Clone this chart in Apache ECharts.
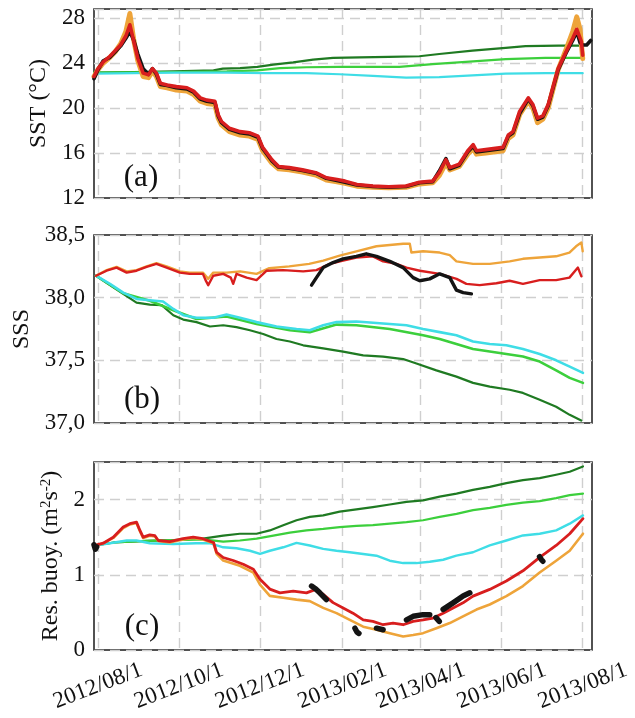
<!DOCTYPE html>
<html>
<head>
<meta charset="utf-8">
<script src="https://cdn.jsdelivr.net/npm/echarts@6/dist/echarts.min.js"></script>
<style>
  html, body { margin: 0; padding: 0; background: #fff; }
  #chart { width: 635px; height: 718px; }
</style>
</head>
<body>
<div id="chart"></div>
<script>
// Time base: all series are given as [days since 2012-07-29, value]
const START_DATE = '2012-07-29';
const END_DATE = '2013-08-08';

// x-axis ticks (bimonthly) and their printed labels
const tickDates = ['2012-08-01', '2012-10-01', '2012-12-01', '2013-02-01', '2013-04-01', '2013-06-01', '2013-08-01'];
const tickLabels = ['2012/08/1', '2012/10/1', '2012/12/1', '2013/02/1', '2013/04/1', '2013/06/1', '2013/08/1'];

// ---- (a) Sea surface temperature, deg C ----
const sstOrange = [[0,22.8],[3,23.4],[7,24.0],[12,24.5],[16,25.0],[20,25.7],[24,26.8],[27,28.4],[30,26.0],[33,24.2],[37,22.8],[41,22.7],[44,23.3],[47,22.8],[50,21.9],[55,21.8],[62,21.6],[70,21.5],[75,21.2],[80,20.6],[85,20.4],[91,20.3],[93.5,19.1],[96,18.5],[102,17.9],[110,17.6],[117,17.5],[123.5,17.2],[127,16.2],[134,15.1],[139,14.6],[147,14.5],[157,14.3],[167,14.05],[175,13.6],[183,13.45],[189,13.3],[198,13.05],[210,12.95],[222,12.9],[235,12.95],[245,13.25],[255,13.35],[260,14.0],[265,15.1],[268,14.5],[275,14.8],[281.5,15.9],[285.5,16.4],[288,15.9],[295,16.0],[308,16.2],[312,17.3],[315.5,17.6],[320.5,19.4],[327,20.6],[330.5,20.0],[334,18.7],[338,19.0],[342,20.0],[345.5,21.6],[349.5,23.4],[355.5,25.2],[360.5,26.8],[363.5,28.1],[366,27.0],[368,24.4]];
const sstBlack = [[0,22.6],[3,23.4],[7,24.2],[12,24.5],[16,25.0],[20,25.5],[24,26.2],[27,26.8],[30,26.0],[33,24.8],[37,23.5],[41,23.0],[44,23.5],[47,23.0],[50,22.1],[55,22.0],[62,21.8],[70,21.7],[75,21.4],[80,20.8],[85,20.6],[91,20.5],[93.5,19.3],[96,18.7],[102,18.1],[110,17.8],[117,17.7],[123.5,17.4],[127,16.4],[134,15.3],[139,14.75],[147,14.65],[157,14.45],[167,14.2],[175,13.75],[183,13.55],[189,13.4],[198,13.15],[210,13.02],[222,12.97],[235,13.02],[245,13.35],[255,13.45],[260,14.4],[265,15.5],[268,14.6],[275,14.9],[281.5,16.1],[285.5,16.6],[288,16.1],[295,16.2],[308,16.4],[312,17.5],[315.5,17.8],[320.5,19.5],[327,20.8],[330.5,20.2],[334,19.0],[338,19.2],[342,20.2],[345.5,21.7],[349.5,23.4],[355.5,24.9],[360.5,26.0],[363.5,26.8],[366,25.8],[368,25.6],[371,25.6],[374,26.0]];
const sstRed = [[0,22.8],[3,23.5],[7,24.1],[12,24.6],[16,25.1],[20,25.6],[24,26.4],[27,27.4],[30,25.9],[33,24.4],[37,23.1],[41,22.95],[44,23.5],[47,23.1],[50,22.2],[55,22.05],[62,21.9],[70,21.8],[75,21.5],[80,20.9],[85,20.7],[91,20.6],[93.5,19.4],[96,18.8],[102,18.2],[110,17.9],[117,17.8],[123.5,17.5],[127,16.5],[134,15.4],[139,14.8],[147,14.7],[157,14.5],[167,14.25],[175,13.8],[183,13.65],[189,13.5],[198,13.2],[210,13.06],[222,13.0],[235,13.06],[245,13.4],[255,13.5],[260,14.25],[265,15.4],[268,14.7],[275,15.0],[281.5,16.2],[285.5,16.75],[288,16.2],[295,16.3],[308,16.5],[312,17.6],[315.5,17.9],[320.5,19.7],[327,20.9],[330.5,20.3],[334,19.1],[338,19.3],[342,20.3],[345.5,21.8],[349.5,23.5],[355.5,25.0],[360.5,26.2],[363.5,27.0],[367,25.9],[368,24.7]];
const sstDarkGreen = [[0,23.15],[30,23.2],[60,23.25],[90,23.35],[97,23.5],[110,23.55],[123,23.65],[135,23.85],[150,24.05],[165,24.3],[180,24.45],[200,24.5],[222,24.55],[245,24.6],[260,24.8],[285,25.1],[310,25.35],[325,25.5],[350,25.55],[368,25.55]];
const sstLightGreen = [[0,23.15],[60,23.2],[100,23.25],[123,23.35],[140,23.55],[160,23.62],[185,23.65],[230,23.65],[255,23.9],[280,24.1],[310,24.35],[340,24.45],[368,24.45]];
const sstCyan = [[0,23.05],[30,23.1],[60,23.15],[100,23.15],[130,23.1],[160,23.1],[185,23.0],[210,22.85],[235,22.7],[260,22.75],[285,22.9],[310,23.05],[340,23.1],[368,23.1]];

// ---- (b) Sea surface salinity ----
const sssOrange = [[1.5,38.175],[9.5,38.22],[17,38.245],[24.6,38.21],[32,38.22],[39.6,38.25],[47,38.275],[54.7,38.25],[64.7,38.21],[72,38.2],[82,38.2],[86,38.15],[89.8,38.2],[100,38.2],[110,38.21],[122.4,38.19],[132,38.235],[147,38.25],[162,38.27],[172.6,38.295],[185,38.335],[197.6,38.37],[212.7,38.41],[222.7,38.42],[232.8,38.43],[237.8,38.43],[239,38.36],[247.8,38.37],[260.3,38.36],[267.9,38.34],[272.9,38.29],[285.4,38.27],[298,38.27],[313,38.29],[323,38.31],[335.6,38.32],[348,38.33],[358,38.36],[363,38.41],[367,38.44],[368,38.37]];
const sssRed = [[1.5,38.175],[9.5,38.215],[17,38.24],[24.6,38.2],[32,38.215],[39.6,38.245],[47,38.27],[54.7,38.24],[64.7,38.2],[72,38.19],[82,38.19],[84,38.14],[86,38.1],[89.8,38.175],[97.3,38.19],[103,38.16],[104.8,38.11],[107.3,38.19],[114.9,38.16],[122.4,38.14],[130,38.215],[142.5,38.22],[157.5,38.21],[167.5,38.22],[177.6,38.27],[187.6,38.295],[197.6,38.32],[210,38.33],[217.7,38.29],[227.7,38.27],[235.3,38.24],[245.3,38.215],[260.3,38.19],[273,38.15],[280.4,38.11],[290.4,38.1],[303,38.115],[313,38.135],[323,38.11],[335.6,38.14],[348,38.14],[358,38.16],[364.4,38.24],[367,38.17]];
const sssBlack = [[163.8,38.1],[167.5,38.16],[172.6,38.24],[180,38.28],[187.6,38.31],[197.6,38.33],[205,38.35],[212.7,38.33],[222.7,38.29],[232.8,38.24],[240.3,38.16],[245.3,38.135],[252.8,38.15],[260.3,38.19],[267.9,38.16],[272.9,38.06],[278,38.04],[284.2,38.03]];
const sssCyan = [[1.5,38.175],[12,38.11],[22,38.04],[32,37.99],[42,37.98],[52,37.97],[59.7,37.91],[67.2,37.86],[77.2,37.84],[89.8,37.84],[99.8,37.865],[109.9,37.84],[122.4,37.805],[137.4,37.77],[152.5,37.75],[162.5,37.74],[172.6,37.78],[182.6,37.805],[197.6,37.81],[210.2,37.8],[222.7,37.79],[235.3,37.78],[247.8,37.75],[260.3,37.725],[272.9,37.7],[285.4,37.65],[298,37.63],[310.5,37.62],[323,37.59],[335.6,37.55],[348,37.5],[358.2,37.45],[368.2,37.4]];
const sssLightGreen = [[1.5,38.175],[22,38.035],[42,37.975],[59.7,37.9],[77.2,37.83],[99.8,37.85],[122.4,37.79],[147.5,37.74],[162.5,37.725],[182.6,37.785],[197.6,37.78],[222.7,37.75],[247.8,37.7],[260.3,37.67],[272.9,37.63],[285.4,37.59],[298,37.57],[310.5,37.55],[323,37.53],[335.6,37.49],[348,37.42],[358.2,37.36],[368.2,37.32]];
const sssDarkGreen = [[1.5,38.175],[12,38.1],[22,38.03],[32,37.96],[42,37.945],[51,37.94],[59.7,37.86],[67.2,37.825],[77.2,37.805],[87.3,37.77],[97.3,37.78],[107.3,37.765],[117.4,37.74],[127.4,37.71],[137.4,37.67],[147.5,37.65],[157.5,37.62],[172.6,37.595],[187.6,37.57],[202.7,37.54],[217.7,37.53],[232.8,37.51],[242.8,37.475],[257.8,37.42],[272.9,37.37],[285.4,37.32],[298,37.29],[313,37.265],[323,37.24],[335.6,37.185],[348,37.13],[358.2,37.065],[366.9,37.02]];

// ---- (c) Residual buoyancy, m2 s-2 ----
const rbDarkGreen = [[0.75,1.39],[15,1.43],[40,1.45],[60,1.46],[82,1.48],[97.3,1.52],[109.8,1.546],[122.4,1.546],[132.4,1.59],[142.5,1.66],[152.5,1.725],[162.5,1.77],[172.6,1.79],[185,1.84],[197.6,1.87],[210,1.9],[222.7,1.935],[235.3,1.97],[247.8,1.99],[260.3,2.04],[273,2.08],[285.4,2.13],[298,2.17],[310.5,2.22],[323,2.26],[335.6,2.285],[348,2.33],[358.2,2.37],[368.2,2.44]];
const rbLightGreen = [[0.75,1.39],[15,1.43],[40,1.45],[60,1.46],[82,1.47],[97.3,1.44],[109.8,1.456],[122.4,1.48],[135,1.52],[147.5,1.56],[160,1.59],[172.6,1.61],[185,1.635],[197.6,1.65],[210,1.66],[222.7,1.68],[235.3,1.7],[247.8,1.725],[260.3,1.77],[273,1.81],[285.4,1.86],[298,1.89],[310.5,1.93],[323,1.96],[335.6,1.98],[348,2.02],[358.2,2.06],[368.2,2.08]];
const rbCyan = [[0.75,1.39],[12,1.42],[24.6,1.456],[32,1.456],[42,1.42],[59.7,1.41],[77,1.42],[87,1.42],[97.3,1.366],[107.3,1.353],[117.4,1.32],[125,1.277],[132.4,1.32],[142.5,1.366],[152.5,1.425],[162.5,1.39],[172.6,1.344],[182.6,1.32],[192.6,1.3],[202.7,1.277],[212.7,1.254],[222.7,1.187],[232.8,1.156],[242.8,1.156],[252.8,1.174],[262.9,1.2],[272.9,1.254],[285.4,1.3],[298,1.39],[310.5,1.456],[323,1.523],[335.6,1.546],[348,1.59],[358.2,1.68],[368.2,1.79]];
const rbOrange = [[0.75,1.39],[7,1.42],[14.5,1.49],[22,1.62],[27,1.67],[32,1.69],[34.6,1.58],[37,1.49],[42,1.52],[45.9,1.51],[48.4,1.45],[57,1.43],[67,1.47],[74.7,1.49],[82,1.47],[90,1.42],[92.3,1.28],[97.3,1.19],[109.8,1.12],[120,1.03],[125,0.87],[132.4,0.72],[142.5,0.694],[152.5,0.67],[162.5,0.65],[172.6,0.56],[182.6,0.49],[192.6,0.4],[202.7,0.31],[212.7,0.27],[222.7,0.224],[232.8,0.18],[240.3,0.2],[247.8,0.224],[257.8,0.29],[267.9,0.358],[277.9,0.448],[288,0.538],[298,0.605],[310.5,0.717],[323,0.85],[335.6,1.03],[348,1.187],[358.2,1.32],[368.2,1.546]];
const rbRed = [[0.75,1.39],[7,1.42],[14.5,1.5],[22,1.635],[27,1.68],[32,1.7],[34.6,1.59],[37,1.5],[42,1.53],[45.9,1.52],[48.4,1.456],[57,1.44],[67,1.48],[74.7,1.5],[82,1.48],[90,1.43],[92.3,1.3],[97.3,1.23],[104.8,1.19],[112.4,1.14],[120,1.075],[125,0.94],[132.4,0.81],[140,0.76],[150,0.784],[160,0.76],[167.5,0.81],[172.6,0.74],[180,0.63],[187.6,0.56],[195,0.49],[202.7,0.4],[210,0.38],[217.7,0.336],[225.2,0.358],[232.8,0.336],[240.3,0.38],[247.8,0.4],[255.3,0.425],[262.9,0.49],[270.4,0.56],[277.9,0.627],[285.4,0.717],[298,0.806],[310.5,0.918],[323,1.053],[335.6,1.232],[348,1.39],[358.2,1.546],[368.2,1.747]];
// observed residual buoyancy is only available in short pieces
const rbBlackPieces = [
  [[0,1.4],[1,1.34],[2,1.37]],
  [[163.8,0.85],[167,0.81],[170,0.76],[175,0.67]],
  [[196.5,0.29],[198,0.24],[199.5,0.22]],
  [[212.7,0.29],[217.7,0.27]],
  [[235.3,0.4],[240.3,0.448],[247.8,0.47],[252.8,0.47]],
  [[257.5,0.43],[259,0.4],[260,0.38]],
  [[262.9,0.54],[270.4,0.627],[277.9,0.717],[283,0.76]],
  [[335.5,1.24],[337,1.2],[338,1.18]]
];

// y-axis ranges and tick steps
const sstAxis = { min: 12, max: 28.8, step: 4 };
const sssAxis = { min: 37, max: 38.5, step: 0.5 };
const rbAxis = { min: 0, max: 2.5, step: 1 };

// ---------------------------------------------------------------
const DAY_MS = 86400000;
function utc(s) { const p = s.split('-').map(Number); return Date.UTC(p[0], p[1] - 1, p[2]); }
const t0 = utc(START_DATE);
const toTime = arr => arr.map(([d, v]) => [t0 + d * DAY_MS, v]);
const tickTimes = tickDates.map(utc);

function joinPieces(pieces) {
  const out = [];
  pieces.forEach((p, i) => {
    if (i > 0) out.push([t0 + (p[0][0] - 0.5) * DAY_MS, '-']);
    toTime(p).forEach(q => out.push(q));
  });
  return out;
}

const C = {
  darkGreen: '#1f7a22',
  lightGreen: '#3ccf3c',
  cyan: '#3fdde6',
  orange: '#eea43a',
  red: '#d81e1e',
  black: '#141414'
};

const FONT = '"Liberation Serif", "Times New Roman", serif';
const grid = [
  { left: 94, right: 43, top: 9, height: 189 },
  { left: 94, right: 43, top: 235, height: 188 },
  { left: 94, right: 43, top: 462, height: 188 }
].map(g => Object.assign(g, { show: true, borderColor: '#1a1a1a', borderWidth: 1.5, backgroundColor: 'transparent' }));

const dashed = { show: true, lineStyle: { color: '#cfcfcf', width: 1.4, type: [10, 6] } };

// time runs along a numeric axis (timestamps), ticks at the first day of every other month
function xAxis(i, showLabels) {
  return {
    type: 'value', gridIndex: i,
    min: utc(START_DATE), max: utc(END_DATE),
    axisLine: { show: false },
    axisTick: { show: false, customValues: tickTimes },
    splitLine: dashed,
    axisLabel: {
      show: showLabels,
      customValues: tickTimes,
      rotate: 21,
      align: 'center',
      verticalAlign: 'middle',
      margin: 36,
      fontFamily: FONT, fontSize: 23, color: '#111',
      formatter: v => { const k = tickTimes.indexOf(v); return k >= 0 ? tickLabels[k] : ''; }
    }
  };
}

function yAxis(i, ax, name, gap, fmt, rich) {
  return {
    type: 'value', gridIndex: i,
    min: ax.min, max: ax.max, interval: ax.step,
    name: name, nameLocation: 'middle', nameGap: gap,
    nameTextStyle: Object.assign({ fontFamily: FONT, fontSize: 24, color: '#111' }, rich ? { rich: rich } : {}),
    axisLine: { show: false },
    axisTick: { show: false },
    splitLine: dashed,
    axisLabel: {
      fontFamily: FONT, fontSize: 23, color: '#111', margin: 9,
      formatter: fmt
    }
  };
}

const onStep = (v, ax) => Math.abs((v - ax.min) / ax.step - Math.round((v - ax.min) / ax.step)) < 1e-6;

function line(name, data, color, width, xi, z) {
  return {
    name: name, type: 'line', xAxisIndex: xi, yAxisIndex: xi,
    data: data, showSymbol: false, symbol: 'none', connectNulls: false,
    lineStyle: { color: color, width: width, cap: 'round', join: 'round' },
    z: z, silent: true
  };
}

const sup = { fontFamily: FONT, fontSize: 15, color: '#111', verticalAlign: 'top', lineHeight: 24 };

const option = {
  animation: false,
  backgroundColor: '#ffffff',
  grid: grid,
  xAxis: [xAxis(0, false), xAxis(1, false), xAxis(2, true)],
  yAxis: [
    yAxis(0, sstAxis, 'SST (°C)', 37, v => onStep(v, sstAxis) ? String(v) : ''),
    yAxis(1, sssAxis, 'SSS', 49, v => onStep(v, sssAxis) ? v.toFixed(1).replace('.', ',') : ''),
    yAxis(2, rbAxis, 'Res. buoy. (m{sup|2}s{sup|-2})', 30, v => onStep(v, rbAxis) ? String(v) : '', { sup: sup })
  ],
  series: [
    line('SST dark green', toTime(sstDarkGreen), C.darkGreen, 2.2, 0, 2),
    line('SST light green', toTime(sstLightGreen), C.lightGreen, 2.2, 0, 3),
    line('SST cyan', toTime(sstCyan), C.cyan, 2.2, 0, 4),
    line('SST orange', toTime(sstOrange), C.orange, 5, 0, 5),
    line('SST black', toTime(sstBlack), C.black, 3.6, 0, 6),
    line('SST red', toTime(sstRed), C.red, 3.6, 0, 7),

    line('SSS dark green', toTime(sssDarkGreen), C.darkGreen, 2.2, 1, 2),
    line('SSS light green', toTime(sssLightGreen), C.lightGreen, 2.6, 1, 3),
    line('SSS cyan', toTime(sssCyan), C.cyan, 2.6, 1, 4),
    line('SSS orange', toTime(sssOrange), C.orange, 2.4, 1, 5),
    line('SSS red', toTime(sssRed), C.red, 2.4, 1, 6),
    line('SSS black', toTime(sssBlack), C.black, 3.4, 1, 7),

    line('RB dark green', toTime(rbDarkGreen), C.darkGreen, 2.2, 2, 2),
    line('RB light green', toTime(rbLightGreen), C.lightGreen, 2.2, 2, 3),
    line('RB cyan', toTime(rbCyan), C.cyan, 2.4, 2, 4),
    line('RB orange', toTime(rbOrange), C.orange, 2.6, 2, 5),
    line('RB red', toTime(rbRed), C.red, 2.8, 2, 6),
    line('RB black', joinPieces(rbBlackPieces), C.black, 5.5, 2, 7)
  ],
  graphic: [
    { type: 'text', x: 141, y: 178, style: { text: '(a)', font: '31px ' + FONT, fill: '#111', align: 'center', verticalAlign: 'middle' } },
    { type: 'text', x: 142, y: 400, style: { text: '(b)', font: '31px ' + FONT, fill: '#111', align: 'center', verticalAlign: 'middle' } },
    { type: 'text', x: 142, y: 627, style: { text: '(c)', font: '31px ' + FONT, fill: '#111', align: 'center', verticalAlign: 'middle' } }
  ]
};

const chart = echarts.init(document.getElementById('chart'), null, { renderer: 'canvas' });
chart.setOption(option);
</script>
</body>
</html>
